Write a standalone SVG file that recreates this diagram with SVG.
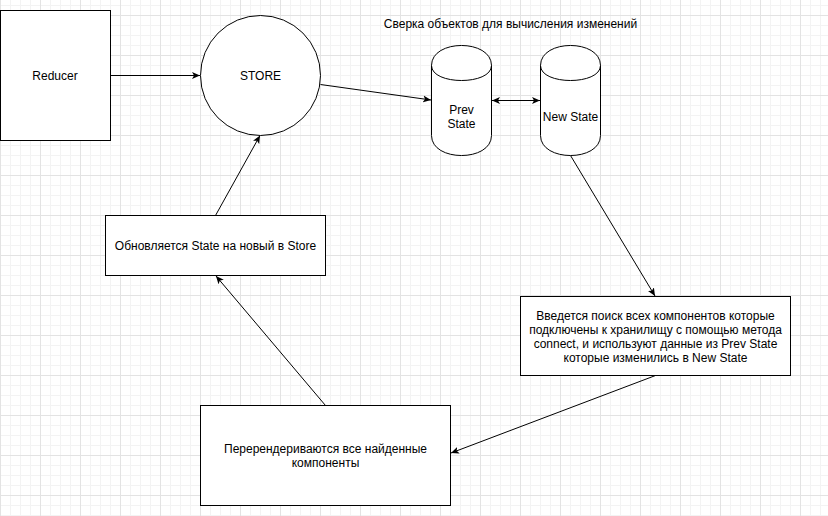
<svg xmlns="http://www.w3.org/2000/svg" width="828" height="516" viewBox="0 0 828 516">
<style>
.shape{fill:#ffffff;stroke:#000000;stroke-width:1}
.edge{fill:none;stroke:#000000;stroke-width:1}
.lbl{font-family:"Liberation Sans",Arial,Helvetica,sans-serif;font-size:12px;fill:#000000;text-anchor:middle;dominant-baseline:central}
</style>
<defs>
<pattern id="grid" patternUnits="userSpaceOnUse" x="0" y="15" width="40" height="40">
<path d="M10.5 0V40M20.5 0V40M30.5 0V40M0 10.5H40M0 20.5H40M0 30.5H40" stroke="#f3f3f3" stroke-width="1" fill="none"/>
<path d="M0.5 0V40M0 0.5H40" stroke="#e3e3e3" stroke-width="1" fill="none"/>
</pattern>
<marker id="arr" markerUnits="userSpaceOnUse" viewBox="0 0 8 8" refX="8" refY="4" markerWidth="8" markerHeight="8" orient="auto-start-reverse">
<path d="M8 4L0 0.5L2 4L0 7.5Z" fill="#000000"/>
</marker>
</defs>
<rect x="0" y="0" width="828" height="516" fill="#ffffff"/>
<rect x="0" y="0" width="828" height="516" fill="url(#grid)"/>

<g id="connectors">
<line class="edge" x1="110.5" y1="75.5" x2="200" y2="75.5" marker-end="url(#arr)"/>
<line class="edge" x1="320.5" y1="84.5" x2="431" y2="100" marker-end="url(#arr)"/>
<line class="edge" x1="492" y1="100.5" x2="540" y2="100.5" marker-start="url(#arr)" marker-end="url(#arr)"/>
<line class="edge" x1="570.5" y1="155.5" x2="655" y2="296" marker-end="url(#arr)"/>
<line class="edge" x1="655.5" y1="375.5" x2="451" y2="453" marker-end="url(#arr)"/>
<line class="edge" x1="325.5" y1="405.5" x2="216" y2="276" marker-end="url(#arr)"/>
<line class="edge" x1="215.5" y1="215.5" x2="260" y2="135.5" marker-end="url(#arr)"/>
</g>

<g id="reducer">
<rect class="shape" x="0.5" y="10.5" width="110" height="130"/>
<text class="lbl" x="55" y="75.5">Reducer</text>
</g>

<g id="store">
<circle class="shape" cx="260.5" cy="75.5" r="60"/>
<text class="lbl" x="260.5" y="75.5">STORE</text>
</g>

<g id="title">
<text class="lbl" x="510.5" y="24">Сверка объектов для вычисления изменений</text>
</g>

<g id="prev-state">
<path class="shape" d="M431.5 65.5C431.5 38.8 491.5 38.8 491.5 65.5L491.5 135.5C491.5 162.2 431.5 162.2 431.5 135.5Z"/>
<path class="edge" d="M431.5 65.5C431.5 85.5 491.5 85.5 491.5 65.5"/>
<text class="lbl" x="461.5" y="110">Prev</text>
<text class="lbl" x="461.5" y="124">State</text>
</g>

<g id="new-state">
<path class="shape" d="M540.5 65.5C540.5 38.8 600.5 38.8 600.5 65.5L600.5 135.5C600.5 162.2 540.5 162.2 540.5 135.5Z"/>
<path class="edge" d="M540.5 65.5C540.5 85.5 600.5 85.5 600.5 65.5"/>
<text class="lbl" x="570.5" y="117">New State</text>
</g>

<g id="search">
<rect class="shape" x="520.5" y="296.5" width="270" height="79"/>
<text class="lbl" x="655.5" y="316">Введется поиск всех компонентов которые</text>
<text class="lbl" x="655.5" y="330">подключены к хранилищу с помощью метода</text>
<text class="lbl" x="655.5" y="344">connect, и используют данные из Prev State</text>
<text class="lbl" x="655.5" y="358">которые изменились в New State</text>
</g>

<g id="rerender">
<rect class="shape" x="200.5" y="405.5" width="250" height="100"/>
<text class="lbl" x="325.5" y="449">Перерендериваются все найденные</text>
<text class="lbl" x="325.5" y="463">компоненты</text>
</g>

<g id="update">
<rect class="shape" x="105.5" y="215.5" width="220" height="60"/>
<text class="lbl" x="215.5" y="245.5">Обновляется State на новый в Store</text>
</g>
</svg>
